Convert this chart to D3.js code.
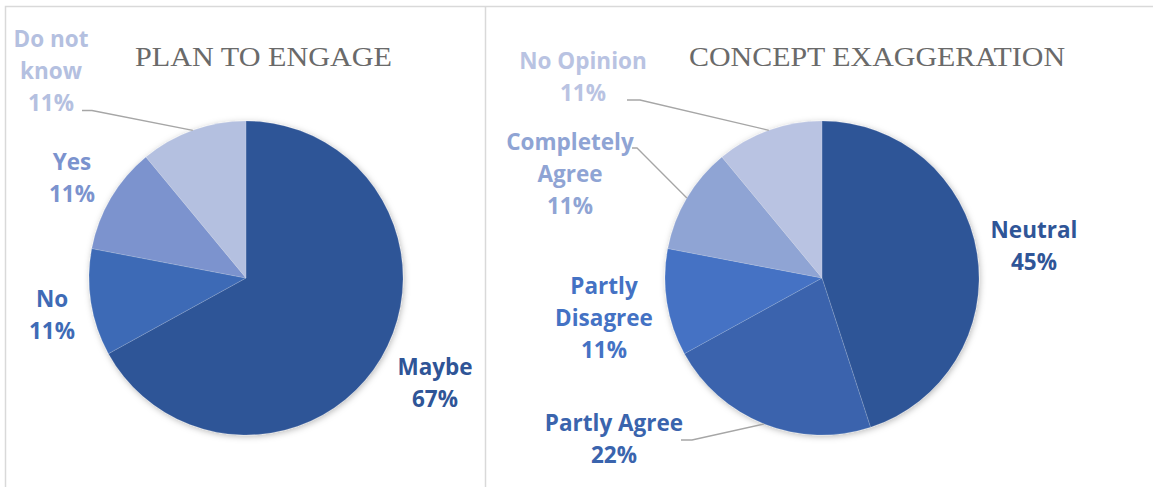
<!DOCTYPE html>
<html>
<head>
<meta charset="utf-8">
<script src="https://cdn.jsdelivr.net/npm/d3@7"></script>
<style>
  html, body { margin: 0; padding: 0; background: #fff; }
  svg { display: block; }
</style>
</head>
<body>
<script>
// ---- data ----
const planTitle = "PLAN TO ENGAGE";
const planCategories = ["Maybe", "No", "Yes", "Do not know"];
const planValues = [67, 11, 11, 11];

const conceptTitle = "CONCEPT EXAGGERATION";
const conceptCategories = ["Neutral", "Partly Agree", "Partly Disagree", "Completely Agree", "No Opinion"];
const conceptValues = [45, 22, 11, 11, 11];

// ---- layout ----
const W = 1153, H = 487;
const labelFont = "'Open Sans', 'DejaVu Sans', sans-serif";
const titleFont = "'Liberation Serif', 'DejaVu Serif', serif";

const charts = [
  {
    title: planTitle, categories: planCategories, values: planValues,
    cx: 246, cy: 278, r: 157,
    titleX: 263.5, titleW: 257,
    colors: ["#2F5597", "#3E6BB6", "#7B93CE", "#B4C0E0"],
    labels: {
      "Maybe":       { lines: ["Maybe"], x: 435, y: 375 },
      "No":          { lines: ["No"], x: 52, y: 306.5 },
      "Yes":         { lines: ["Yes"], x: 72, y: 169.5 },
      "Do not know": { lines: ["Do not", "know"], x: 51, y: 47, leader: [82, 110.5, 92] }
    }
  },
  {
    title: conceptTitle, categories: conceptCategories, values: conceptValues,
    cx: 822, cy: 278, r: 157,
    titleX: 877, titleW: 376,
    colors: ["#2F5597", "#3A64AD", "#4472C4", "#8FA4D4", "#B9C3E2"],
    labels: {
      "Neutral":          { lines: ["Neutral"], x: 1034, y: 237.5 },
      "Partly Agree":     { lines: ["Partly Agree"], x: 614, y: 430.5, leader: [681, 440, 692] },
      "Partly Disagree":  { lines: ["Partly", "Disagree"], x: 604, y: 293.5 },
      "Completely Agree": { lines: ["Completely", "Agree"], x: 570, y: 150, leader: [632, 148, 637] },
      "No Opinion":       { lines: ["No Opinion"], x: 583, y: 69, leader: [627, 100, 640] }
    }
  }
];

const lineStep = 32;

const svg = d3.select("body").append("svg")
  .attr("width", W).attr("height", H)
  .attr("viewBox", `0 0 ${W} ${H}`);

const defs = svg.append("defs");
const shadow = defs.append("filter").attr("id", "pieShadow")
  .attr("x", "-20%").attr("y", "-20%").attr("width", "140%").attr("height", "140%");
shadow.append("feDropShadow")
  .attr("dx", 1).attr("dy", 1.5).attr("stdDeviation", 3)
  .attr("flood-color", "#000").attr("flood-opacity", 0.28);

// chart area frames
svg.append("path")
  .attr("d", "M5.5,487 V6.5 H1153 M485.5,6.5 V487")
  .attr("fill", "none").attr("stroke", "#D9D9D9").attr("stroke-width", 1.5);

const pct = d3.format(".0f");

charts.forEach(c => {
  const data = c.categories.map((name, i) => ({ name, value: c.values[i] }));
  const total = d3.sum(data, d => d.value);
  const color = d3.scaleOrdinal().domain(c.categories).range(c.colors);

  const pie = d3.pie().sort(null).value(d => d.value);
  const arcs = pie(data);
  const arc = d3.arc().innerRadius(0).outerRadius(c.r);
  const rim = d3.arc().innerRadius(c.r).outerRadius(c.r);

  const g = svg.append("g").attr("transform", `translate(${c.cx},${c.cy})`);

  g.append("g").attr("filter", "url(#pieShadow)")
    .selectAll("path").data(arcs).join("path")
    .attr("d", arc)
    .attr("fill", d => color(d.data.name))
    .attr("stroke", "rgba(255,255,255,0.25)")
    .attr("stroke-width", 0.6);

  // title
  svg.append("text")
    .attr("x", c.titleX).attr("y", 65.5)
    .attr("text-anchor", "middle")
    .attr("font-family", titleFont)
    .attr("font-size", 28)
    .attr("fill", "#6A6A6A")
    .attr("textLength", c.titleW)
    .attr("lengthAdjust", "spacingAndGlyphs")
    .text(c.title);

  // data labels with optional leader lines
  arcs.forEach(d => {
    const spec = c.labels[d.data.name];
    const fill = color(d.data.name);
    const lines = spec.lines.concat([pct(d.data.value / total * 100) + "%"]);

    if (spec.leader) {
      const [x0, y0, x1] = spec.leader;
      const [px, py] = rim.centroid(d);
      svg.append("path")
        .attr("d", `M${x0},${y0} H${x1} L${c.cx + px},${c.cy + py}`)
        .attr("fill", "none")
        .attr("stroke", "#A6A6A6")
        .attr("stroke-width", 1.3);
    }

    const t = svg.append("text")
      .attr("text-anchor", "middle")
      .attr("font-family", labelFont)
      .attr("font-weight", 700)
      .attr("font-size", 22.5)
      .attr("fill", fill);
    lines.forEach((ln, i) => {
      t.append("tspan").attr("x", spec.x).attr("y", spec.y + i * lineStep).text(ln);
    });
  });
});
</script>
</body>
</html>
